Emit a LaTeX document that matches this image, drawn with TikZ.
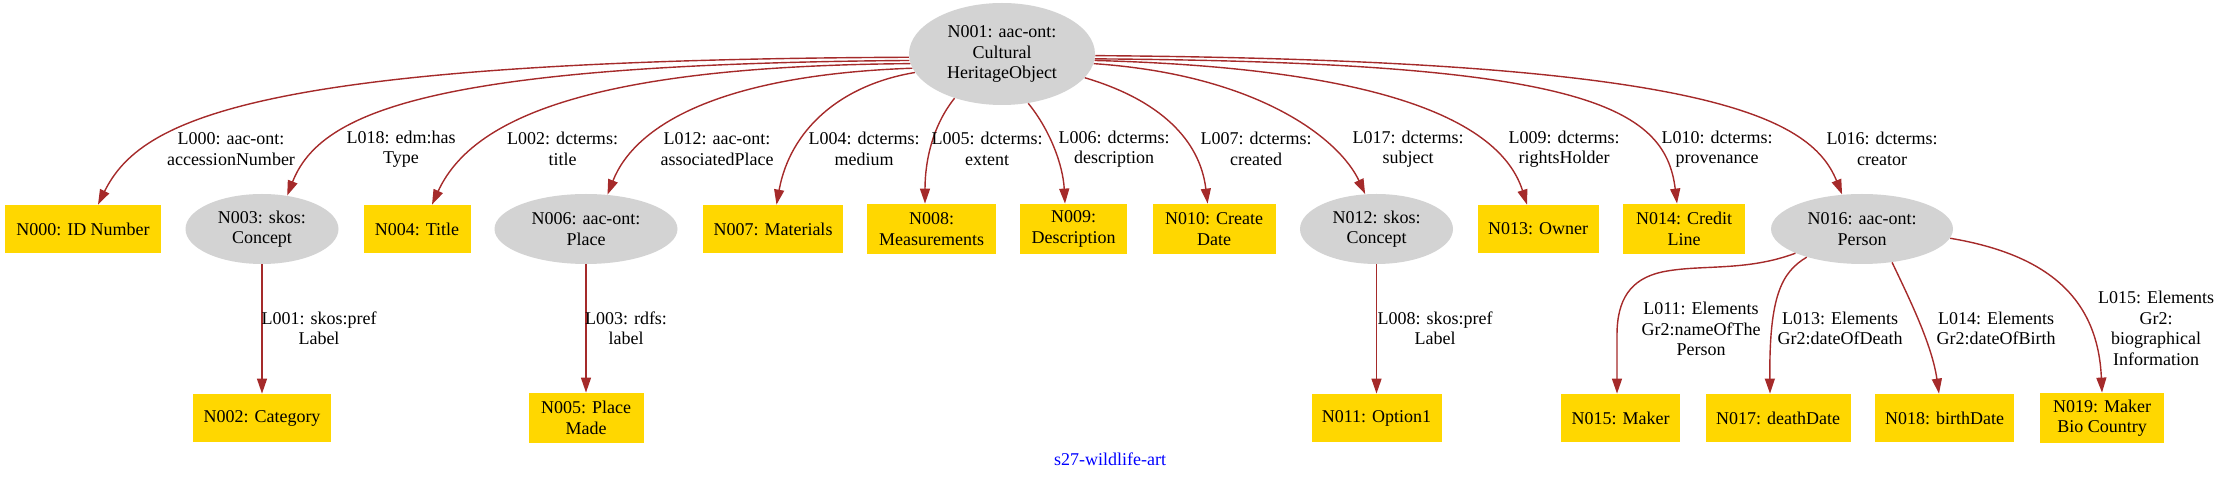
\documentclass[tikz,border=0pt]{standalone}
\usepackage{fontspec}
\setmainfont{Liberation Serif}
\usetikzlibrary{shapes.geometric,arrows.meta}
\definecolor{boxgold}{HTML}{FFD700}
\definecolor{ovalgray}{HTML}{D3D3D3}
\definecolor{edgebrown}{HTML}{A52A2A}
\definecolor{titleblue}{HTML}{0000FF}
\newcommand\gvfont{\fontsize{9pt}{10.25pt}\selectfont}
\tikzset{
  box/.style={rectangle, fill=boxgold, draw=none, inner sep=0pt, align=center, font=\gvfont},
  oval/.style={ellipse, fill=ovalgray, draw=none, inner sep=0pt, align=center, font=\gvfont},
  lbl/.style={inner sep=0pt, align=center, font=\gvfont},
  edge/.style={draw=edgebrown, line width=0.7pt, -{Triangle[length=7.5pt,width=5pt]}}
}
\begin{document}
\begin{tikzpicture}[x=0.5pt,y=-0.5pt]
\useasboundingbox (0,0) rectangle (2221,480);
% nodes
\node[oval, minimum width=93pt, minimum height=51pt] (N001) at (1002,54) {N001: aac-ont:\\Cultural\\HeritageObject};
\node[box, minimum width=78pt, minimum height=24pt] (N000) at (83,229) {N000: ID Number};
\node[oval, minimum width=76.5pt, minimum height=35pt] (N003) at (262,229) {N003: skos:\\Concept};
\node[box, minimum width=53.5pt, minimum height=24pt] (N004) at (417,229) {N004: Title};
\node[oval, minimum width=91.5pt, minimum height=35pt] (N006) at (586,229) {N006: aac-ont:\\Place};
\node[box, minimum width=70pt, minimum height=24pt] (N007) at (773,229) {N007: Materials};
\node[box, minimum width=64.5pt, minimum height=25pt] (N008) at (931.6,229) {N008:\\Measurements};
\node[box, minimum width=53.5pt, minimum height=25pt] (N009) at (1073.5,229) {N009:\\Description};
\node[box, minimum width=61.5pt, minimum height=25pt] (N010) at (1214,229) {N010: Create\\Date};
\node[oval, minimum width=76.5pt, minimum height=35pt] (N012) at (1376.5,229) {N012: skos:\\Concept};
\node[box, minimum width=60.5pt, minimum height=24pt] (N013) at (1538,229) {N013: Owner};
\node[box, minimum width=61pt, minimum height=25pt] (N014) at (1684,229) {N014: Credit\\Line};
\node[oval, minimum width=91pt, minimum height=35pt] (N016) at (1862,229) {N016: aac-ont:\\Person};
\node[box, minimum width=69pt, minimum height=24pt] (N002) at (262,418) {N002: Category};
\node[box, minimum width=57.5pt, minimum height=25pt] (N005) at (586,418) {N005: Place\\Made};
\node[box, minimum width=65pt, minimum height=24pt] (N011) at (1376.5,418) {N011: Option1};
\node[box, minimum width=59.5pt, minimum height=24pt] (N015) at (1620.6,418) {N015: Maker};
\node[box, minimum width=72.5pt, minimum height=24pt] (N017) at (1778,418) {N017: deathDate};
\node[box, minimum width=69.5pt, minimum height=24pt] (N018) at (1944.5,418) {N018: birthDate};
\node[box, minimum width=62pt, minimum height=25pt] (N019) at (2102,418) {N019: Maker\\Bio Country};
% edges from N001
\draw[edge] (N001.182) .. controls (250,60) and (140,120) .. ([xshift=7.5pt]N000.north);
\draw[edge] (N001.184) .. controls (430,64) and (320,112) .. (N003.53);
\draw[edge] (N001.186) .. controls (580,66) and (470,122) .. ([xshift=7.5pt]N004.north);
\draw[edge] (N001.189) .. controls (720,75) and (635,125) .. (N006.58);
\draw[edge] (N001.192) .. controls (840,85) and (790,130) .. ([xshift=1.75pt]N007.north);
\draw[edge] (N001.223) .. controls (933,125) and (925,160) .. ([xshift=-3.3pt]N008.north);
\draw[edge] (N001.298) .. controls (1050,130) and (1063,165) .. ([xshift=-4.25pt]N009.north);
\draw[edge] (N001.344) .. controls (1160,100) and (1200,140) .. ([xshift=-3.2pt]N010.north);
\draw[edge] (N001.354) .. controls (1260,75) and (1340,140) .. (N012.108);
\draw[edge] (N001.356) .. controls (1380,68) and (1500,120) .. ([xshift=-5.5pt]N013.north);
\draw[edge] (N001.357.5) .. controls (1580,62) and (1665,105) .. ([xshift=-3.5pt]N014.north);
\draw[edge] (N001.359) .. controls (1700,60) and (1810,115) .. (N016.120);
% second level edges
\draw[edge] (N003.south) -- (N002.north);
\draw[edge] (N006.south) -- (N005.north);
\draw[edge] (N012.south) -- (N011.north);
\draw[edge] (N016.200) .. controls (1745,272) and (1700,264) .. (1662,272)
  .. controls (1630,279) and (1617,300) .. (1617,335) -- ([xshift=-1.8pt]N015.north);
\draw[edge] (N016.207) .. controls (1782,272) and (1769,295) .. ([xshift=-4pt]N017.north);
\draw[edge] (N016.312) .. controls (1910,300) and (1932,345) .. ([xshift=-2.75pt]N018.north);
\draw[edge] (N016.354) .. controls (2050,255) and (2098,300) .. (N019.north);
% edge labels
\node[lbl] (L000) at (231,149) {L000: aac-ont:\\accessionNumber};
\node[lbl] (L018) at (401,149) {L018: edm:has\\Type};
\node[lbl] (L002) at (562.5,149) {L002: dcterms:\\title};
\node[lbl] (L012) at (717,149) {L012: aac-ont:\\associatedPlace};
\node[lbl] (L004) at (864,149) {L004: dcterms:\\medium};
\node[lbl] (L005) at (987,149) {L005: dcterms:\\extent};
\node[lbl] (L006) at (1114,149) {L006: dcterms:\\description};
\node[lbl] (L007) at (1256,149) {L007: dcterms:\\created};
\node[lbl] (L017) at (1408,149) {L017: dcterms:\\subject};
\node[lbl] (L009) at (1564,149) {L009: dcterms:\\rightsHolder};
\node[lbl] (L010) at (1717,149) {L010: dcterms:\\provenance};
\node[lbl] (L016) at (1882,149) {L016: dcterms:\\creator};
\node[lbl] (L001) at (319,328.5) {L001: skos:pref\\Label};
\node[lbl] (L003) at (626,328.5) {L003: rdfs:\\label};
\node[lbl] (L008) at (1435,328.5) {L008: skos:pref\\Label};
\node[lbl] (L011) at (1701,329) {L011: Elements\\Gr2:nameOfThe\\Person};
\node[lbl] (L013) at (1840,328.5) {L013: Elements\\Gr2:dateOfDeath};
\node[lbl] (L014) at (1996,328.5) {L014: Elements\\Gr2:dateOfBirth};
\node[lbl] (L015) at (2156,328.5) {L015: Elements\\Gr2:\\biographical\\Information};
% title
\node[lbl, text=titleblue] (title) at (1110,459) {s27-wildlife-art};
\end{tikzpicture}
\end{document}
